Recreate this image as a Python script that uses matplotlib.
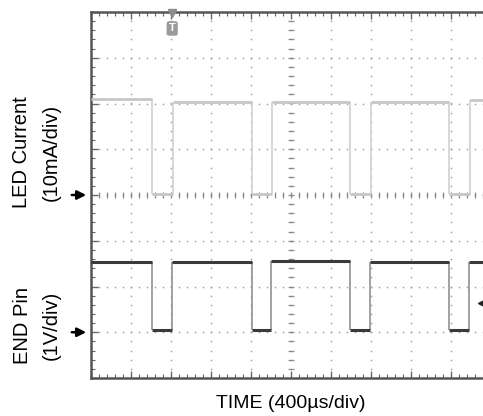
import matplotlib
matplotlib.use('Agg')
import matplotlib.pyplot as plt
import numpy as np

plt.rcParams['font.family'] = ['Liberation Sans', 'DejaVu Sans']

US_PER_DIV = 400.0      # time base
N_XDIV = 10
N_YDIV = 8

# LED current channel: 10 mA/div, ground marker on division 4
led_gain = 10.0
led_ground_div = 4
led_edges_us = [610, 820, 1610, 1810, 2590, 2800, 3580, 3790]
led_high_ma = [21.0, 20.3, 20.3, 20.4, 20.8]
led_low_ma = [0.3, 0.3, 0.3, 0.3]

# END pin channel: 1 V/div, ground marker on division 1
end_gain = 1.0
end_ground_div = 1
end_edges_us = [610, 810, 1610, 1800, 2590, 2790, 3580, 3780]
end_high_v = [1.53, 1.53, 1.55, 1.53, 1.53]
end_low_v = [0.06, 0.06, 0.06, 0.06]

trigger_time_us = 812
trigger_level_v = 0.64


def draw_trace(ax, edges_us, highs, lows, gain, ground, col_h, col_v, lw):
	xe = [0.0] + [e / US_PER_DIV for e in edges_us] + [float(N_XDIV)]
	levels = []
	for i in range(len(xe) - 1):
		levels.append(highs[i // 2] if i % 2 == 0 else lows[i // 2])
	y = [ground + v / gain for v in levels]
	ax.vlines(xe[1:-1], y[:-1], y[1:], colors=col_v, lw=1.3, zorder=3)
	ax.hlines(y, xe[:-1], xe[1:], colors=col_h, lw=lw, zorder=4)


fig = plt.figure(figsize=(4.83, 4.16), dpi=100)
ax = fig.add_axes([91 / 483, 1 - 378 / 416, 400 / 483, 366 / 416])
ax.set_xlim(0, N_XDIV)
ax.set_ylim(0, N_YDIV)

# dotted graticule
fine_x = np.arange(0.2, N_XDIV, 0.2)
fine_y = np.arange(0.2, N_YDIV, 0.2)
for gx in range(1, N_XDIV):
	ax.plot(np.full(len(fine_y), gx), fine_y, ls='none', marker='s', ms=1.1,
			mew=0, color='#a0a0a0', zorder=1)
for gy in range(1, N_YDIV):
	ax.plot(fine_x, np.full(len(fine_x), gy), ls='none', marker='s', ms=1.1,
			mew=0, color='#a0a0a0', zorder=1)

# centre cross with fine ticks
ax.plot(fine_x, np.full(len(fine_x), N_YDIV / 2), ls='none', marker='|', ms=5,
		mew=0.9, color='#8a8a8a', zorder=2)
ax.plot(np.full(len(fine_y), N_XDIV / 2), fine_y, ls='none', marker='_', ms=5,
		mew=0.9, color='#8a8a8a', zorder=2)

draw_trace(ax, led_edges_us, led_high_ma, led_low_ma, led_gain, led_ground_div,
		   '#c6c6c6', '#d4d4d4', 2.0)
draw_trace(ax, end_edges_us, end_high_v, end_low_v, end_gain, end_ground_div,
		   '#3a3a3a', '#9a9a9a', 2.2)

# frame and its ticks
ax.set_xticks(np.arange(0, N_XDIV + 1, 1))
ax.set_yticks(np.arange(0, N_YDIV + 1, 1))
ax.set_xticks(np.arange(0, N_XDIV + 0.01, 0.2), minor=True)
ax.set_yticks(np.arange(0, N_YDIV + 0.01, 0.2), minor=True)
ax.tick_params(which='both', direction='in', top=True, right=True,
			   labelbottom=False, labelleft=False, color='#666666')
ax.tick_params(which='major', length=5, width=1.0)
ax.tick_params(which='minor', length=3, width=0.8)
for sp in ax.spines.values():
	sp.set_color('#555555')
	sp.set_linewidth(1.8)

# ground markers
for g in (led_ground_div, end_ground_div):
	ax.annotate('', xy=(-0.05, g), xytext=(-0.55, g),
				arrowprops=dict(arrowstyle='-|>', color='black', lw=1.8,
								mutation_scale=13),
				annotation_clip=False)

# trigger position and level markers
tx = trigger_time_us / US_PER_DIV
ax.plot([tx], [N_YDIV - 0.02], marker='v', ms=6, color='#8c8c8c', clip_on=False, zorder=5)
ax.text(tx, N_YDIV - 0.36, 'T', ha='center', va='center', fontsize=8,
		fontweight='bold', color='white',
		bbox=dict(boxstyle='round,pad=0.2', fc='#9a9a9a', ec='none'), zorder=5)
ax.plot([9.75], [end_ground_div + trigger_level_v / end_gain], marker='<', ms=5,
		color='#222222', clip_on=False, zorder=5)

# labels
fig.text(291 / 483, 1 - 403 / 416, 'TIME (400\u00b5s/div)', ha='center',
		 va='center', fontsize=14)
fig.text(22 / 483, 1 - 152 / 416, 'LED Current', rotation=90, ha='center',
		 va='center', fontsize=14.5)
fig.text(51 / 483, 1 - 152 / 416, '(10mA/div)', rotation=90, ha='center',
		 va='center', fontsize=14.5)
fig.text(22 / 483, 1 - 325 / 416, 'END Pin', rotation=90, ha='center',
		 va='center', fontsize=14.5)
fig.text(51 / 483, 1 - 325 / 416, '(1V/div)', rotation=90, ha='center',
		 va='center', fontsize=14.5)

fig.savefig('out.png', dpi=100)
